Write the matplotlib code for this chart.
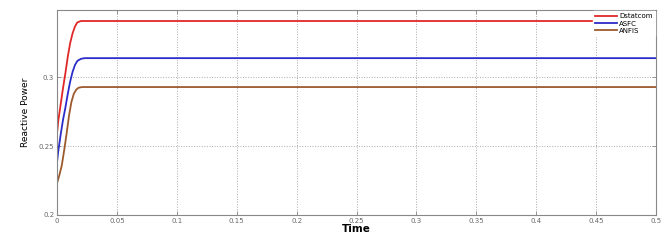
import matplotlib
matplotlib.use("Agg")
import matplotlib.pyplot as plt

# values
t_dstatcom = [0, 0.001, 0.003, 0.005, 0.007, 0.009, 0.011, 0.013, 0.015, 0.017, 0.020, 0.5]
q_dstatcom = [0.259, 0.268, 0.280, 0.292, 0.303, 0.315, 0.325, 0.332, 0.337, 0.340, 0.341, 0.341]

t_asfc = [0, 0.001, 0.003, 0.005, 0.007, 0.009, 0.011, 0.013, 0.015, 0.017, 0.020, 0.023, 0.5]
q_asfc = [0.238, 0.246, 0.258, 0.269, 0.278, 0.288, 0.297, 0.304, 0.309, 0.312, 0.3135, 0.314, 0.314]

t_anfis = [0, 0.002, 0.004, 0.006, 0.008, 0.010, 0.012, 0.014, 0.016, 0.018, 0.021, 0.5]
q_anfis = [0.223, 0.229, 0.236, 0.247, 0.259, 0.272, 0.282, 0.288, 0.291, 0.2925, 0.293, 0.293]

xticks = [0, 0.05, 0.1, 0.15, 0.2, 0.25, 0.3, 0.35, 0.4, 0.45, 0.5]
xticklabels = ["0", "0.05", "0.1", "0.15", "0.2", "0.25", "0.3", "0.35", "0.4", "0.45", "0.5"]
yticks = [0.2, 0.25, 0.3]
yticklabels = ["0.2", "0.25", "0.3"]

fig = plt.figure(figsize=(6.65, 2.41), dpi=100)
ax = fig.add_axes([0.0857, 0.108, 0.9008, 0.8505])

ax.plot(t_dstatcom, q_dstatcom, color="#e02828", lw=1.3, label="Dstatcom")
ax.plot(t_asfc, q_asfc, color="#2c2cc8", lw=1.3, label="ASFC")
ax.plot(t_anfis, q_anfis, color="#9c5a2c", lw=1.3, label="ANFIS")

ax.set_xlim(0, 0.5)
ax.set_ylim(0.2, 0.349)
ax.set_xticks(xticks)
ax.set_xticklabels(xticklabels)
ax.set_yticks(yticks)
ax.set_yticklabels(yticklabels)
ax.tick_params(direction="in", length=3, width=0.6, labelsize=5, colors="#888888",
               labelcolor="#666666", top=True, right=True, pad=2)
ax.grid(True, linestyle=":", color="#aaaaaa", linewidth=0.7)
for s in ax.spines.values():
    s.set_color("#888888")
    s.set_linewidth(0.8)

ax.set_xlabel("Time", fontsize=7.5, fontweight="bold", labelpad=0)
ax.set_ylabel("Reactive Power", fontsize=6.5, labelpad=6)

leg = ax.legend(loc="upper right", fontsize=5, frameon=True, framealpha=1,
                edgecolor="white", fancybox=False, handlelength=3.2,
                handletextpad=0.3, labelspacing=0.15, borderpad=0.3,
                borderaxespad=0.2)

fig.savefig("out.png", dpi=100)
